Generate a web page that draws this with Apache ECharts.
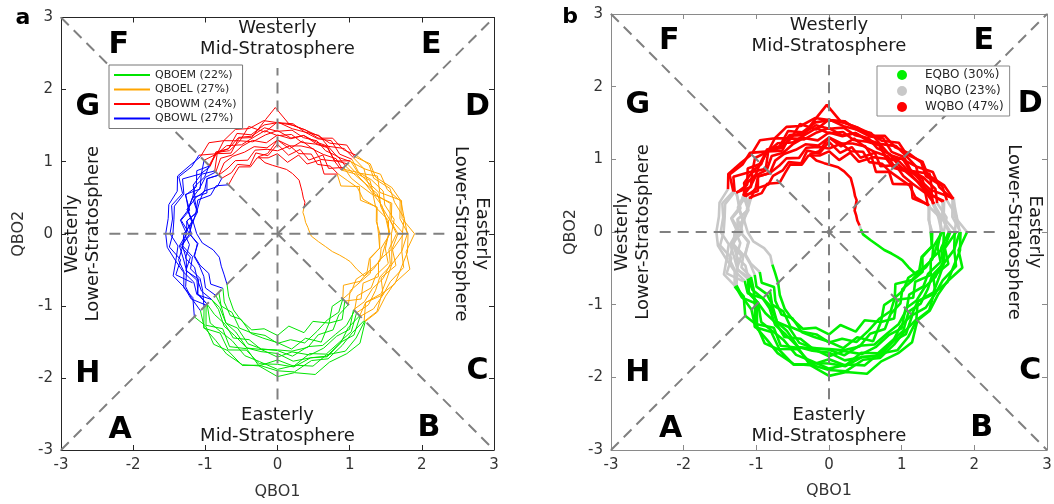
<!DOCTYPE html>
<html><head><meta charset="utf-8">
<script src="https://cdn.jsdelivr.net/npm/echarts@6.0.0/dist/echarts.min.js"></script>
<style>html,body{margin:0;padding:0;background:#fff}#c{width:1054px;height:504px}</style>
</head><body><div id="c"></div>
<script>
// ---- DATA: QBO trajectory as [amplitude, phase angle (deg)] ----
const cycle01 = [[1.15,225],[1.27,232],[1.26,240],[1.41,248],[1.42,255],[1.42,263],[1.52,270],[1.48,277],[1.56,284],[1.46,292],[1.38,300],[1.38,308],[1.28,315],[1.30,322],[1.26,330],[1.35,337],[1.32,345],[1.43,352],[1.42,0],[1.38,7],[1.42,15],[1.28,22],[1.28,30],[1.22,37],[1.18,45],[1.19,52],[1.11,60],[1.20,67],[1.15,75],[1.23,82],[1.15,90],[1.18,97],[1.20,105],[1.10,112],[1.17,120],[1.14,127],[1.15,135],[1.24,142],[1.13,150],[1.28,157],[1.15,165],[1.27,172],[1.19,180],[1.36,187],[1.25,195],[1.37,202],[1.26,210],[1.39,217]];
const cycle02 = [[1.38,225],[1.55,233],[1.57,240],[1.61,247],[1.75,255],[1.79,262],[1.88,270],[1.84,278],[1.90,285],[1.81,292],[1.88,300],[1.81,307],[1.71,315],[1.75,322],[1.67,330],[1.77,337],[1.78,345],[1.82,352],[1.81,0],[1.71,7],[1.76,15],[1.64,22],[1.65,30],[1.50,37],[1.49,45],[1.50,52],[1.40,60],[1.48,67],[1.46,75],[1.47,82],[1.55,90],[1.42,97],[1.54,105],[1.39,112],[1.49,120],[1.39,127],[1.54,135],[1.51,142],[1.58,150],[1.43,157],[1.52,165],[1.47,172],[1.49,180],[1.39,187],[1.46,195],[1.41,202],[1.34,210],[1.40,217]];
const cycle03 = [[1.29,225],[1.30,232],[1.43,240],[1.42,247],[1.58,255],[1.61,262],[1.62,270],[1.71,277],[1.62,285],[1.67,292],[1.61,300],[1.59,307],[1.51,315],[1.40,322],[1.50,330],[1.48,337],[1.59,345],[1.51,352],[1.54,0],[1.55,7],[1.41,15],[1.43,22],[1.33,30],[1.28,37],[1.30,45],[1.15,52],[1.26,60],[1.11,67],[1.21,75],[1.10,82],[1.24,90],[1.09,97],[1.16,105],[1.02,112],[1.11,120],[1.06,127],[1.09,135],[1.06,142],[1.18,150],[1.17,157],[1.16,165],[1.27,172],[1.26,180],[1.37,187],[1.35,195],[1.36,202],[1.47,210],[1.49,217]];
const cycle04 = [[1.51,225],[1.65,232],[1.71,240],[1.81,247],[1.88,255],[1.85,262],[1.98,270],[1.94,277],[2.02,285],[1.92,292],[1.92,300],[1.90,307],[1.72,315],[1.76,322],[1.73,330],[1.76,337],[1.90,345],[1.80,352],[1.90,0],[1.74,7],[1.78,15],[1.53,22],[1.60,30],[1.40,37],[1.43,45],[1.28,52],[1.39,60],[1.36,67],[1.41,75],[1.34,82],[1.43,90],[1.38,97],[1.32,105],[1.39,112],[1.33,120],[1.41,127],[1.34,135],[1.28,142],[1.32,150],[1.28,157],[1.29,165],[1.20,172],[1.22,180],[1.12,187],[1.19,195],[1.16,202],[1.10,210],[1.16,217]];
const cycle05 = [[1.07,225],[1.20,232],[1.31,240],[1.29,247],[1.43,255],[1.46,262],[1.51,270],[1.61,277],[1.50,285],[1.62,292],[1.43,300],[1.49,307],[1.32,315],[1.47,322],[1.37,330],[1.52,337],[1.45,345],[1.59,352],[1.58,0],[1.63,7],[1.54,15],[1.58,22],[1.50,30],[1.41,37],[1.46,45],[1.40,52],[1.49,60],[1.43,67],[1.46,75],[1.54,82],[1.54,90],[1.58,97],[1.51,105],[1.56,112],[1.49,120],[1.58,127],[1.51,135],[1.54,142],[1.60,150],[1.51,157],[1.56,165],[1.53,172],[1.55,180],[1.54,187],[1.46,195],[1.56,202],[1.49,210],[1.50,217]];
const cycle06 = [[1.40,225],[1.61,232],[1.52,240],[1.70,247],[1.65,255],[1.85,262],[1.75,270],[1.85,277],[1.72,285],[1.80,292],[1.73,300],[1.70,307],[1.55,315],[1.60,322],[1.57,330],[1.54,337],[1.64,345],[1.60,352],[1.67,0],[1.57,7],[1.49,15],[1.49,22],[1.40,30],[1.37,37],[1.25,45],[1.28,52],[1.19,60],[1.28,67],[1.26,75],[1.23,82],[1.30,90],[1.20,97],[1.25,105],[1.22,112],[1.24,120],[1.23,127],[1.15,135],[1.24,142],[1.17,150],[1.25,157],[1.15,165],[1.19,172],[1.22,180],[1.11,187],[1.20,195],[1.17,202],[1.18,210],[1.25,217]];
const cycle07 = [[1.21,225],[1.27,232],[1.43,240],[1.48,247],[1.64,255],[1.65,262],[1.66,270],[1.78,277],[1.78,285],[1.83,292],[1.74,300],[1.76,307],[1.62,315],[1.69,322],[1.69,330],[1.70,337],[1.81,345],[1.74,352],[1.80,0],[1.77,7],[1.77,15],[1.71,22],[1.57,30],[1.61,37],[1.51,45],[1.56,52],[1.45,60],[1.47,67],[1.49,75],[1.53,84],[1.75,91],[1.59,96],[1.38,105],[1.43,112],[1.29,120],[1.39,127],[1.23,135],[1.34,142],[1.24,150],[1.39,157],[1.26,165],[1.35,172],[1.22,180],[1.33,187],[1.31,195],[1.36,202],[1.29,210],[1.38,217]];
const cycle08 = [[1.38,225],[1.42,232],[1.45,240],[1.57,247],[1.52,255],[1.62,262],[1.61,270],[1.64,277],[1.63,285],[1.51,292],[1.54,300],[1.41,307],[1.39,315],[1.28,322],[1.33,330],[1.40,337],[1.33,345],[1.43,352],[1.40,0],[1.39,7],[1.43,15],[1.24,22],[1.31,30],[1.10,37],[1.17,45],[1.05,52],[1.18,60],[1.05,67],[1.13,75],[1.00,82],[1.11,90],[1.06,97],[1.09,105],[1.00,112],[1.07,120],[1.01,127],[0.96,135],[1.08,142],[1.07,150],[1.20,157],[1.17,165],[1.18,172],[1.30,180],[1.32,187],[1.42,195],[1.40,202],[1.50,210],[1.47,217]];
const cycle09 = [[1.63,225],[1.62,232],[1.77,240],[1.76,247],[1.89,255],[1.84,262],[1.90,270],[1.93,277],[1.82,285],[1.87,292],[1.79,300],[1.72,307],[1.70,315],[1.55,322],[1.69,330],[1.56,337],[1.70,345],[1.61,352],[1.75,0],[1.59,7],[1.64,15],[1.44,22],[1.48,30],[1.38,37],[1.37,45],[1.29,52],[1.38,60],[1.35,67],[1.31,75],[1.39,82],[1.36,90],[1.44,97],[1.37,105],[1.33,112],[1.41,120],[1.39,127],[1.44,135],[1.34,142],[1.35,150],[1.24,157],[1.30,165],[1.18,172],[1.12,180],[1.05,187],[0.92,194],[0.87,202],[0.90,210],[0.93,217]];
const cycle10 = [[0.99,225],[1.10,232],[1.22,240],[1.30,247],[1.38,255],[1.33,262],[1.41,270],[1.29,277],[1.42,285],[1.31,292],[1.43,300],[1.26,307],[1.28,315],[1.16,322],[1.32,330],[1.36,337],[1.47,345],[1.45,352],[1.56,0],[1.53,7],[1.48,15],[1.52,22],[1.44,30],[1.50,37],[1.42,45],[1.35,52],[1.40,60],[1.38,67],[1.41,75],[1.33,82],[1.37,90],[1.27,97],[1.34,105],[1.31,112],[1.26,120],[1.31,127],[1.21,135],[1.27,142],[1.25,150],[1.28,157],[1.28,165],[1.20,172],[1.29,180],[1.23,187],[1.32,195],[1.24,202],[1.28,210],[1.32,217]];
const cycle11 = [[1.29,225],[1.33,232],[1.48,240],[1.53,247],[1.64,255],[1.62,262],[1.71,270],[1.65,277],[1.74,285],[1.71,292],[1.64,300],[1.66,307],[1.49,315],[1.53,322],[1.52,330],[1.59,337],[1.62,345],[1.56,352],[1.65,0],[1.57,7],[1.62,15],[1.46,22],[1.44,30],[1.41,37],[1.27,45],[1.32,52],[1.27,60],[1.27,67],[1.33,75],[1.19,82],[1.30,90],[1.12,97],[1.10,104],[1.00,100],[0.95,94],[0.92,88],[0.90,82],[0.86,76],[0.80,68],[0.68,60],[0.61,54],[0.58,49],[0.52,45],[0.46,40],[0.44,32],[0.42,22],[0.43,12],[0.44,5],[0.47,356],[0.58,349],[0.69,345],[0.80,342],[0.91,341],[1.00,340],[1.08,339],[1.20,336],[1.34,334],[1.42,340],[1.48,347],[1.50,354],[1.55,0],[1.52,7],[1.50,15],[1.44,22],[1.40,30],[1.35,37],[1.33,45],[1.36,52],[1.33,60],[1.40,67],[1.38,75],[1.45,82],[1.42,90],[1.48,97],[1.40,105],[1.44,112],[1.36,120],[1.40,127],[1.33,135],[1.42,142],[1.30,150],[1.38,157],[1.28,165],[1.36,172],[1.26,180],[1.33,187],[1.22,195],[1.30,202],[1.24,210],[1.30,217]];
const cycle12 = [[1.44,225],[1.66,232],[1.59,240],[1.75,247],[1.67,255],[1.82,262],[1.81,270],[1.86,277],[1.78,285],[1.84,292],[1.75,300],[1.63,307],[1.61,315],[1.55,322],[1.66,330],[1.64,337],[1.64,345],[1.74,352],[1.73,0],[1.77,7],[1.68,15],[1.68,22],[1.54,30],[1.59,37],[1.54,45],[1.48,52],[1.53,60],[1.44,67],[1.49,75],[1.52,82],[1.54,90],[1.52,97],[1.42,105],[1.50,112],[1.36,120],[1.42,127],[1.32,135],[1.35,142],[1.52,150],[1.41,157],[1.48,165],[1.45,172],[1.45,180],[1.51,187],[1.39,195],[1.52,202],[1.36,210]];

const phaseNamesA = ['QBOEM (22%)', 'QBOEL (27%)', 'QBOWM (24%)', 'QBOWL (27%)'];
const phaseNamesB = ['EQBO (30%)', 'NQBO (23%)', 'WQBO (47%)'];
const axisTicks = [-3, -2, -1, 0, 1, 2, 3];
const regionText = ['Westerly\nMid-Stratosphere', 'Easterly\nMid-Stratosphere', 'Westerly\nLower-Stratosphere', 'Easterly\nLower-Stratosphere'];
const regionAnchor = [[0, 2.705], [0, -2.67], [-2.695, 0], [2.69, 0]];
const octantLetters = ['A', 'B', 'C', 'D', 'E', 'F', 'G', 'H'];
const octantAnchor = [[-2.18, -2.72], [2.1, -2.7], [2.77, -1.91], [2.77, 1.76], [2.13, 2.62], [-2.2, 2.62], [-2.63, 1.75], [-2.63, -1.95]];
const guideLines = [[[-3, -3], [3, 3]], [[-3, 3], [3, -3]], [[-2.33, 0], [2.33, 0]], [[0, -2.3], [0, 2.3]]];

// ---- styles ----
const COLORS_A = ['#00e400', '#ffa500', '#ff0000', '#0000ff'];
const COLORS_B = ['#00f000', '#c8c8c8', '#ff0000'];
const Z_B = [2, 2, 3];
const REGION_ROT = [0, 0, 90, -90];
const FONT = 'DejaVu Sans';

const track = [].concat(cycle01, cycle02, cycle03, cycle04, cycle05, cycle06, cycle07, cycle08, cycle09, cycle10, cycle11, cycle12);

function midAngle(a1, a2) {
  const d = ((a2 - a1 + 540) % 360) - 180;
  return ((a1 + d / 2) % 360 + 360) % 360;
}
function sectorA(m) { // phase sectors split at the diagonals
  if (m >= 225 && m < 315) return 0;
  if (m >= 315 || m < 45) return 1;
  if (m < 135) return 2;
  return 3;
}
function sectorB(m) {
  if (m >= 14 && m < 160) return 2;
  if ((m >= 160 && m < 207) || (m >= 3 && m < 14)) return 1;
  return 0;
}
function segments(tr, sectorOf) {
  const segs = []; let cur = null;
  for (let i = 0; i < tr.length - 1; i++) {
    const s = sectorOf(midAngle(tr[i][1], tr[i + 1][1]));
    if (!cur || cur.s !== s) { cur = { s: s, pts: [tr[i]] }; segs.push(cur); }
    cur.pts.push(tr[i + 1]);
  }
  return segs;
}

const series = [];
segments(track, sectorA).forEach(sg => series.push({
  type: 'line', name: phaseNamesA[sg.s], coordinateSystem: 'polar', polarIndex: 0,
  data: sg.pts, symbol: 'none', showSymbol: false, silent: true, animation: false, z: 2,
  lineStyle: { color: COLORS_A[sg.s], width: 1 }, itemStyle: { color: COLORS_A[sg.s] }
}));
segments(track, sectorB).forEach(sg => series.push({
  type: 'line', name: phaseNamesB[sg.s], coordinateSystem: 'polar', polarIndex: 1,
  data: sg.pts, symbol: 'none', showSymbol: false, silent: true, animation: false, z: Z_B[sg.s],
  lineStyle: { color: COLORS_B[sg.s], width: 2.6 }, itemStyle: { color: COLORS_B[sg.s] }
}));

[0, 1].forEach(p => {
  guideLines.forEach(g => series.push({
    type: 'line', xAxisIndex: p * 2, yAxisIndex: p * 2, data: g, symbol: 'none', silent: true,
    animation: false, z: 3, lineStyle: { color: '#808080', width: 2, type: [11, 7] }
  }));
  series.push({
    type: 'scatter', xAxisIndex: p * 2, yAxisIndex: p * 2, symbolSize: 1, silent: true, animation: false, z: 5,
    itemStyle: { color: 'rgba(0,0,0,0)', opacity: 1 },
    data: regionText.map((t, i) => ({ name: t, value: regionAnchor[i], label: { rotate: REGION_ROT[i] } })),
    label: { show: true, position: 'inside', formatter: '{b}', fontFamily: FONT, fontSize: 18, lineHeight: 21, color: '#1a1a1a', opacity: 1, textBorderWidth: 0, align: 'center', verticalAlign: 'middle' }
  });
  series.push({
    type: 'scatter', xAxisIndex: p * 2, yAxisIndex: p * 2, symbolSize: 1, silent: true, animation: false, z: 5,
    itemStyle: { color: 'rgba(0,0,0,0)', opacity: 1 },
    data: octantLetters.map((t, i) => ({ name: t, value: octantAnchor[i] })),
    label: { show: true, position: 'inside', formatter: '{b}', fontFamily: FONT, fontSize: 30, fontWeight: 'bold', color: '#000', opacity: 1, textBorderWidth: 0, align: 'center', verticalAlign: 'middle' }
  });
});

const frameColor = ['#262626', '#8a8a8a'];
function xAx(p, top) {
  return {
    gridIndex: p, type: 'value', min: axisTicks[0], max: axisTicks[axisTicks.length - 1], interval: 1,
    position: top ? 'top' : 'bottom',
    axisLine: { show: true, onZero: false, lineStyle: { color: frameColor[p], width: 1 } },
    axisTick: { show: true, inside: true, length: 5, lineStyle: { color: frameColor[p] } },
    axisLabel: { show: !top, color: '#333', fontSize: 15, margin: 8, fontFamily: FONT },
    splitLine: { show: false },
    name: top ? '' : 'QBO1', nameLocation: 'middle', nameGap: p ? 33 : 34,
    nameTextStyle: { fontSize: 16, color: '#333', fontFamily: FONT }
  };
}
function yAx(p, right) {
  return {
    gridIndex: p, type: 'value', min: axisTicks[0], max: axisTicks[axisTicks.length - 1], interval: 1,
    position: right ? 'right' : 'left',
    axisLine: { show: true, onZero: false, lineStyle: { color: frameColor[p], width: 1 } },
    axisTick: { show: true, inside: true, length: 5, lineStyle: { color: frameColor[p] } },
    axisLabel: { show: !right, color: '#333', fontSize: 15, margin: 8, fontFamily: FONT },
    splitLine: { show: false },
    name: right ? '' : 'QBO2', nameLocation: 'middle', nameGap: p ? 32 : 34, nameRotate: 90,
    nameTextStyle: { fontSize: 16, color: '#333', fontFamily: FONT }
  };
}

const option = {
  backgroundColor: '#fff',
  animation: false,
  grid: [
    { left: 61, top: 17.5, width: 433, height: 432.5, outerBoundsMode: 'none', containLabel: false },
    { left: 611, top: 14, width: 436, height: 436, outerBoundsMode: 'none', containLabel: false }
  ],
  xAxis: [xAx(0, false), xAx(0, true), xAx(1, false), xAx(1, true)],
  yAxis: [yAx(0, false), yAx(0, true), yAx(1, false), yAx(1, true)],
  polar: [
    { center: [277.5, 233.75], radius: 216.4 },
    { center: [829, 232], radius: 218 }
  ],
  radiusAxis: [
    { polarIndex: 0, type: 'value', min: 0, max: 3, show: false },
    { polarIndex: 1, type: 'value', min: 0, max: 3, show: false }
  ],
  angleAxis: [
    { polarIndex: 0, type: 'value', min: 0, max: 360, startAngle: 0, clockwise: false, show: false },
    { polarIndex: 1, type: 'value', min: 0, max: 360, startAngle: 0, clockwise: false, show: false }
  ],
  legend: [
    {
      data: phaseNamesA.map(n => ({ name: n, icon: 'rect' })), orient: 'vertical', left: 109, top: 65,
      padding: [3, 6, 3, 5], itemGap: 0.5, itemWidth: 36, itemHeight: 2, selectedMode: false,
      textStyle: { fontSize: 11, fontFamily: FONT, color: '#262626', lineHeight: 14 },
      itemStyle: { borderWidth: 0 },
      backgroundColor: '#fff', borderColor: '#777', borderWidth: 1, borderRadius: 0
    },
    {
      data: phaseNamesB.map(n => ({ name: n, icon: 'circle' })), orient: 'vertical', left: 877, top: 66,
      padding: [1, 6, 1, 20], itemGap: 0, itemWidth: 36, itemHeight: 10, selectedMode: false,
      textStyle: { fontSize: 12, fontFamily: FONT, color: '#262626', lineHeight: 16 },
      itemStyle: { borderWidth: 0 },
      backgroundColor: '#fff', borderColor: '#888', borderWidth: 1, borderRadius: 0
    }
  ],
  graphic: [
    { type: 'text', x: 23, y: 18, style: { text: 'a', font: 'bold 22px "DejaVu Sans"', fill: '#000', align: 'center', verticalAlign: 'middle' } },
    { type: 'text', x: 570, y: 17, style: { text: 'b', font: 'bold 22px "DejaVu Sans"', fill: '#000', align: 'center', verticalAlign: 'middle' } }
  ],
  series: series
};

const chart = echarts.init(document.getElementById('c'), null, { renderer: 'canvas', width: 1054, height: 504 });
chart.setOption(option);
</script></body></html>
